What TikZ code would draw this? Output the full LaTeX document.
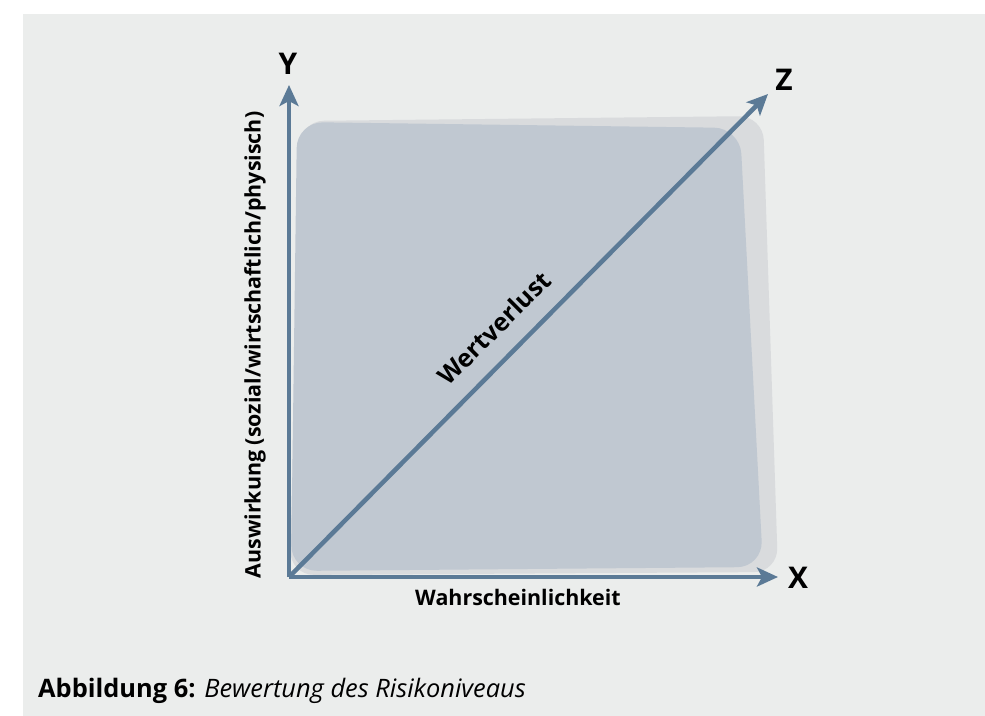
\documentclass[tikz,border=0pt]{standalone}
\usepackage{fontspec}
\setmainfont{Open Sans}
\usepackage{xcolor}
\usepackage{tikz}
\usetikzlibrary{arrows.meta}

\definecolor{bgGray}{HTML}{EBEDEC}
\definecolor{shadeGray}{HTML}{D9DBDD}
\definecolor{areaBlue}{HTML}{C0C8D1}
\definecolor{axisBlue}{HTML}{5B7A96}

\begin{document}
\begin{tikzpicture}[
  x=1bp, y=-1bp,
  axis/.style={-{Stealth[length=21bp,width=19bp,inset=5bp]},line width=4.5bp,axisBlue},
  axlabel/.style={font=\fontsize{30}{32}\selectfont\bfseries,inner sep=0pt},
  title/.style={font=\fontsize{21.5}{24}\selectfont\bfseries,inner sep=0pt},
]
\useasboundingbox (0,0) rectangle (985,716);
\fill[white] (0,0) rectangle (985,716);
\fill[bgGray] (23,14) rectangle (985,716);
% shaded risk area
\fill[shadeGray,rounded corners=24bp] (300,121) -- (763,116) -- (778,572) -- (290,575) -- cycle;
\fill[areaBlue,rounded corners=26bp] (297,122) -- (740,128) -- (763,567) -- (291,571) -- cycle;
% axes
\coordinate (o) at (289,577);
\coordinate (ytip) at (289,85);
\coordinate (xtip) at (778,577);
\coordinate (ztip) at (768,94);
\draw[axis] (o) -- (ytip);
\draw[axis] (o) -- (xtip);
\draw[axis] (o) -- (ztip);
\node[axlabel] (ylab) at (288,64) {Y};
\node[axlabel] (xlab) at (798,578) {X};
\node[axlabel] (zlab) at (784,80) {Z};
\node[title] (prob) at (518,597) {Wahrscheinlichkeit};
\node[title,rotate=90] (impact) at (255,345) {Auswirkung (sozial/wirtschaftlich/physisch)};
\node[title,rotate=45,font=\fontsize{25}{28}\selectfont\bfseries] (loss) at (494,328) {Wertverlust};
% caption
\node[anchor=west,inner sep=0pt,font=\fontsize{25.5}{28}\selectfont] (cap) at (38,691)
  {\textbf{Abbildung 6:} \textit{Bewertung des Risikoniveaus}};
\end{tikzpicture}
\end{document}
